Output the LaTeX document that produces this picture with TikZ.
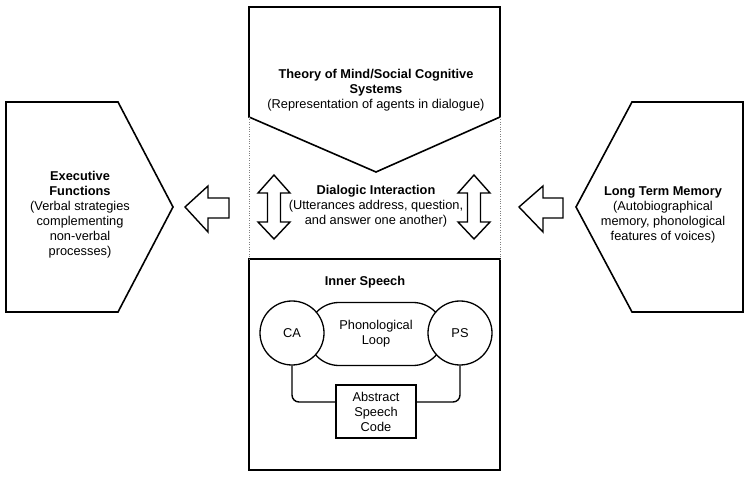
\documentclass[tikz,border=0pt]{standalone}
\usepackage{fontspec}
\setmainfont{Liberation Sans}
\usepackage{tikz}

\begin{document}
\begin{tikzpicture}[x=1pt,y=-1pt,font=\fontsize{12.8}{15}\selectfont,
    % styles
    block/.style={draw,line width=1.6pt,line join=miter},
    fat arrow/.style={draw,line width=1.4pt,fill=white,line join=miter},
    side line/.style={gray,thin,dotted},
    label/.style={align=center,inner sep=0pt},
    voice/.style={draw,circle,line width=1.3pt,fill=white,minimum size=64pt,inner sep=0pt},
    loop box/.style={draw,rounded corners=31pt,line width=1.3pt,fill=white,
      minimum width=136pt,minimum height=63pt,align=center},
    code box/.style={draw,line width=1.3pt,fill=white,align=center,
      minimum width=80pt,minimum height=53pt,inner sep=0pt},
    link/.style={line width=1.4pt,rounded corners=7pt}]

  \useasboundingbox (0,0) rectangle (750,478);

  % blocks
  \draw[block] (249,7) -- (500,7) -- (500,117) -- (376,172) -- (249,117) -- cycle;
  \draw[block] (6,102) -- (118,102) -- (173,207) -- (118,312) -- (6,312) -- cycle;
  \draw[block] (743,102) -- (632,102) -- (576,207) -- (632,312) -- (743,312) -- cycle;
  \draw[block] (249,259) rectangle (500,470);

  % dotted sides
  \draw[side line] (249,117) -- (249,259);
  \draw[side line] (500,117) -- (500,259);

  % arrows
  \draw[fat arrow] (185,207) -- (208,186) -- (208,198) -- (229,198)
    -- (229,218) -- (208,218) -- (208,232) -- cycle;
  \draw[fat arrow] (519,207) -- (543,186) -- (543,198) -- (563,198)
    -- (563,218) -- (543,218) -- (543,232) -- cycle;
  \foreach \cx in {274,474}
    \draw[fat arrow] (\cx,175) -- ++(16,18) -- ++(-9.5,0) -- ++(0,29)
      -- ++(9.5,0) -- (\cx,239) -- ++(-16,-17) -- ++(9.5,0) -- ++(0,-29)
      -- ++(-9.5,0) -- cycle;

  % text
  \node[label] (tom) at (376,90) {\textbf{Theory of Mind/Social Cognitive}\\
    \textbf{Systems}\\(Representation of agents in dialogue)};
  \node[label] (dialog) at (376,206) {\textbf{Dialogic Interaction}\\
    (Utterances address, question,\\and answer one another)};
  \node[label] (exec) at (80,215) {\textbf{Executive}\\\textbf{Functions}\\
    (Verbal strategies\\complementing\\non-verbal\\processes)};
  \node[label] (ltm) at (663,215) {\textbf{Long Term Memory}\\
    (Autobiographical\\memory, phonological\\features of voices)};
  \node[label] (inner) at (365,282) {\textbf{Inner Speech}};

  % inner speech
  \node[loop box] (loop) at (376,334) {Phonological\\Loop};
  \node[voice] (ca) at (292,333) {CA};
  \node[voice] (ps) at (460,333) {PS};
  \node[code box] (asc) at (376,411.5) {Abstract\\Speech\\Code};
  \draw[link] (ca.south) |- ([yshift=9.5pt]asc.west);
  \draw[link] (ps.south) |- ([yshift=9.5pt]asc.east);
\end{tikzpicture}
\end{document}
